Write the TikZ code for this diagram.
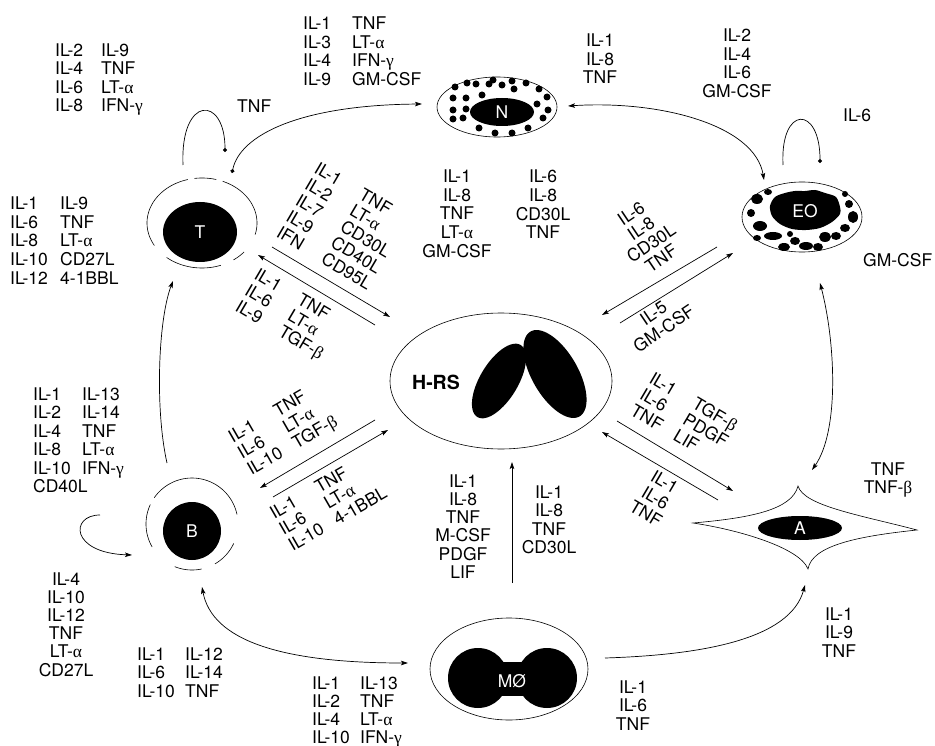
\documentclass[tikz,border=0pt]{standalone}
\usepackage{fontspec}
\setmainfont{TeX Gyre Heros}
\newfontfamily\grkfont{Liberation Serif}
\usetikzlibrary{arrows.meta,shapes.geometric}

\newcommand\myalpha{{\grkfont α}}
\newcommand\mybeta{{\grkfont β}}
\newcommand\mygamma{{\grkfont γ}}
% two columns of cytokine names, first column of fixed width
\newcommand\twocol[2]{\begin{tabular}[t]{@{}p{#1pt}@{}l@{}}#2\end{tabular}}
% one centred column
\newcommand\onecol[1]{\begin{tabular}[t]{@{}c@{}}#1\end{tabular}}
% a named port at an offset from a cell
\newcommand\port[3]{\path (#1.center) ++(#2) coordinate (#3);}

\begin{document}
\begin{tikzpicture}[x=1pt,y=-1pt,
  font=\fontsize{17.5}{18.5}\selectfont,
  ringline/.style={line width=0.6pt},
  cellring/.style={ellipse, draw, line width=0.6pt, inner sep=0pt},
  frame/.style={ellipse, inner sep=0pt},
  nuc/.style={ellipse, fill=black, inner sep=0pt, text=white},
  lbl/.style={inner sep=0pt},
  wire/.style={line width=0.7pt},
  arr/.style={wire, -{Stealth[length=7pt,width=4.5pt,inset=1.5pt]}},
  dbl/.style={wire, {Stealth[length=7pt,width=4.5pt,inset=1.5pt]}-{Stealth[length=7pt,width=4.5pt,inset=1.5pt]}},
  dotend/.style={wire, -{Circle[length=4pt]}},
  dotarr/.style={wire, {Circle[length=4pt]}-{Stealth[length=7pt,width=4.5pt,inset=1.5pt]}},
]
\useasboundingbox (0,0) rectangle (935,746);

% ---------------- cells ----------------
% T lymphocyte
\node[frame, minimum width=110pt, minimum height=90pt] (tring) at (202,223) {};
\foreach \a/\b in {150/255,262/285,292/375,40/55,70/130}
  \draw[ringline, shift={(tring.center)}] plot[domain=\a:\b, samples=40] ({55*cos(\x)},{45*sin(\x)});
\node[nuc, minimum width=74pt, minimum height=60pt] (tnuc) at (200,232) {T};

% B lymphocyte
\node[frame, minimum width=92pt, minimum height=92pt] (bring) at (192,524) {};
\foreach \a/\b in {150/205,215/348,25/60,78/112}
  \draw[ringline, shift={(bring.center)}] plot[domain=\a:\b, samples=40] ({46*cos(\x)},{46*sin(\x)});
\node[nuc, minimum width=58pt, minimum height=58pt] (bnuc) at (192,531) {B};

% neutrophil
\node[cellring, minimum width=120pt, minimum height=60pt] (n) at (497,107) {};
\foreach \p in {(-42,-20),(-30,-24),(-21,-23),(-8,-23),(-4,-27),(5,-22),(15,-26),(17,-18),
  (29,-24),(42,-18),(-44,-9),(-31,-9),(-15,-12),(50,-10),(-44,3),(-31,2),(40,-3),(51,3),
  (-44,12),(-34,11),(46,11),(-18,21),(-2,26),(15,26),(31,21)}
  \fill[shift={(n.center)}] \p circle[radius=3.5];
\node[nuc, minimum width=64pt, minimum height=28pt] (nnuc) at (502,112) {N};

% eosinophil
\node[cellring, minimum width=120pt, minimum height=70pt] (eo) at (802,217) {};
\fill[shift={(eo.center)}] plot[smooth cycle] coordinates {(38,-10) (34,-20) (23,-24) (13,-27)
  (3,-26) (-7,-26) (-17,-24) (-27,-20) (-32,-11) (-30,-1) (-22,7) (-10,12) (4,13) (18,11)
  (30,5) (38,-3)};
\foreach \gx/\gy/\rx/\ry in {-45/-18/6/5,-51/-4/4/4,-42/9/7/5,-45/21/4/3,-29/19/9/4,-18/30/6/4,
  -7/24/5/4,4/29/7/4,16/30/5/4,23/20/6/5,34/19/5/4,43/11/5/4,51/0/5/6,47/-13/4/4,43/-23/3/3,
  -34/-25/4/3,-12/17/3/3}
  \fill[shift={(eo.center)}] (\gx,\gy) ellipse[x radius=\rx, y radius=\ry];
\node[lbl, text=white] (eolabel) at (805,211) {EO};

% Hodgkin / Reed-Sternberg cell with its two tilted nuclei
\node[cellring, minimum width=222pt, minimum height=136pt] (hrs) at (501,381) {};
\fill[shift={(hrs.center)}] plot[domain=0:360, samples=90]
  ({-2+42*cos(\x)*0.515+19*sin(\x)*0.857},{-42*cos(\x)*0.857+19*sin(\x)*0.515}) -- cycle;
\fill[shift={(hrs.center)}] plot[domain=0:360, samples=90]
  ({54+49*cos(\x)*0.5-23*sin(\x)*0.866},{-7+49*cos(\x)*0.866+23*sin(\x)*0.5}) -- cycle;
\node[lbl, font=\fontsize{19.5}{22}\selectfont\bfseries] (hrslabel) at (436,382) {H-RS};

% macrophage
\node[cellring, minimum width=158pt, minimum height=102pt] (mo) at (509,669) {};
\fill[shift={(mo.center)}] (-31,9) circle[radius=30];
\fill[shift={(mo.center)}] (38,9) circle[radius=30];
\fill[shift={(mo.center)}] (-31,-7) rectangle (38,27);
\node[lbl, text=white] (molabel) at (512,681) {MØ};

% fibroblast-like cell
\node[frame, minimum width=84pt, minimum height=24pt] (anucframe) at (800,528) {};
\draw[ringline, fill=white, shift={(anucframe.center)}]
  (-107,-5) .. controls (-50,-10) and (-8,-18) .. (-2,-42)
  .. controls (4,-22) and (60,-13) .. (117,2)
  .. controls (60,8) and (12,17) .. (8,41)
  .. controls (0,20) and (-60,2) .. cycle;
\node[nuc, minimum width=84pt, minimum height=24pt] (anuc) at (800,528) {A};

% ---------------- ports ----------------
\port{tring}{-19,-58}{tloopA}
\port{tring}{23,-71}{tloopB}
\port{tring}{30,-50}{tN}
\port{tring}{70,24}{tH}
\port{tring}{56,32}{tHin}
\port{tring}{-29,58}{tB}
\port{hrs}{-111,-64}{hTin}
\port{hrs}{-126,-56}{hT}
\port{hrs}{-126,39}{hB}
\port{hrs}{-113,49}{hBin}
\port{hrs}{11,81}{hM}
\port{hrs}{116,40}{hA}
\port{hrs}{101,51}{hAin}
\port{hrs}{101,-66}{hEin}
\port{hrs}{119,-58}{hE}
\port{n}{-75,-3}{nT}
\port{n}{71,-1}{nE}
\port{eo}{-38,-37}{eN}
\port{eo}{-19,-52}{eloopA}
\port{eo}{18,-54}{eloopB}
\port{eo}{-85,30}{eH}
\port{eo}{-69,36}{eHin}
\port{eo}{18,66}{eA}
\port{bring}{-25,-61}{bT}
\port{bring}{68,-36}{bHin}
\port{bring}{81,-27}{bH}
\port{bring}{-92,-9}{bloopA}
\port{bring}{-60,31}{bloopB}
\port{bring}{10,63}{bM}
\port{mo}{-101,-6}{mB}
\port{mo}{3,-86}{mH}
\port{mo}{96,-11}{mA}
\port{anuc}{-67,-37}{aHin}
\port{anuc}{-82,-28}{aH}
\port{anuc}{12,-58}{aE}
\port{anuc}{5,57}{aM}

% ---------------- connectors ----------------
\draw[dotend] (tloopA) .. controls +(-3,-70) and +(0,-57) .. (tloopB);
\draw[dotarr] (tN) .. controls +(8,-38) and +(-122,1) .. (nT);
\draw[dbl] (nE) .. controls +(92,-6) and +(-9,-55) .. (eN);
\draw[dotend] (eloopA) .. controls +(-3,-60) and +(0,-58) .. (eloopB);
\draw[dbl] (eA) .. controls +(15,57) and +(28,-40) .. (aE);
\draw[arr] (bT) .. controls +(-12,-53) and +(-15,39) .. (tB);
\draw[arr] (bloopA) .. controls +(-30,0) and +(-62,-2) .. (bloopB);
\draw[dbl] (bM) .. controls +(10,53) and +(-128,0) .. (mB);
\draw[arr] (mA) .. controls +(95,-3) and +(-15,55) .. (aM);
\draw[arr] (mH) -- (hM);
\draw[arr] (tH) -- (hTin);
\draw[arr] (hT) -- (tHin);
\draw[arr] (hB) -- (bHin);
\draw[arr] (bH) -- (hBin);
\draw[arr] (hA) -- (aHin);
\draw[arr] (aH) -- (hAin);
\draw[arr] (eH) -- (hEin);
\draw[arr] (hE) -- (eHin);

% ---------------- cytokine labels ----------------
\node[lbl, anchor=base west] (ltTa) at (55,56.5) {\twocol{46}{IL-2 & IL-9\\ IL-4 & TNF\\ IL-6 & LT-\myalpha\\ IL-8 & IFN-\mygamma}};
\node[lbl, anchor=base west] (ltTloop) at (237,113) {TNF};
\node[lbl, anchor=base west] (ltN) at (303,30) {\twocol{49}{IL-1 & TNF\\ IL-3 & LT-\myalpha\\ IL-4 & IFN-\mygamma\\ IL-9 & GM-CSF}};
\node[lbl, anchor=base] (ltNr) at (600,47) {\onecol{IL-1\\ IL-8\\ TNF}};
\node[lbl, anchor=base] (ltE) at (737,42) {\onecol{IL-2\\ IL-4\\ IL-6\\ GM-CSF}};
\node[lbl, anchor=base west] (ltEloop) at (843,122) {IL-6};
\node[lbl, anchor=base west] (ltTb) at (10,210) {\twocol{50}{IL-1 & IL-9\\ IL-6 & TNF\\ IL-8 & LT-\myalpha\\ IL-10 & CD27L\\ IL-12 & 4-1BBL}};
\node[lbl, anchor=base] (ltHa) at (457,183) {\onecol{IL-1\\ IL-8\\ TNF\\ LT-\myalpha\\ GM-CSF}};
\node[lbl, anchor=base] (ltHb) at (543,183) {\onecol{IL-6\\ IL-8\\ CD30L\\ TNF}};
\node[lbl, anchor=base west] (ltEr) at (863,267) {GM-CSF};
\node[lbl, anchor=base west] (ltBa) at (33,400) {\twocol{49}{IL-1 & IL-13\\ IL-2 & IL-14\\ IL-4 & TNF\\ IL-8 & LT-\myalpha\\ IL-10 & IFN-\mygamma\\ \multicolumn{2}{@{}l@{}}{CD40L}}};
\node[lbl, anchor=base, font=\fontsize{17.5}{18}\selectfont] (ltBb) at (66,585) {\onecol{IL-4\\ IL-10\\ IL-12\\ TNF\\ LT-\myalpha\\ CD27L}};
\node[lbl, anchor=base west] (ltBc) at (137,660) {\twocol{48}{IL-1 & IL-12\\ IL-6 & IL-14\\ IL-10 & TNF}};
\node[lbl, anchor=base west, font=\fontsize{17.5}{18}\selectfont] (ltM) at (312,689) {\twocol{48}{IL-1 & IL-13\\ IL-2 & TNF\\ IL-4 & LT-\myalpha\\ IL-10 & IFN-\mygamma}};
\node[lbl, anchor=base, font=\fontsize{17.5}{18}\selectfont] (ltMHa) at (463,487) {\onecol{IL-1\\ IL-8\\ TNF\\ M-CSF\\ PDGF\\ LIF}};
\node[lbl, anchor=base] (ltMHb) at (549,498) {\onecol{IL-1\\ IL-8\\ TNF\\ CD30L}};
\node[lbl, anchor=base] (ltMA) at (633,693) {\onecol{IL-1\\ IL-6\\ TNF}};
\node[lbl, anchor=base] (ltAb) at (839,620) {\onecol{IL-1\\ IL-9\\ TNF}};
\node[lbl, anchor=base] (ltAr) at (888,475) {\onecol{TNF\\ TNF-\mybeta}};

% labels along the straight arrows
\node[lbl, rotate=-30.5] (rTa) at (342,228) {\twocol{52}{IL-1 & TNF\\ IL-2 & LT-\myalpha\\ IL-7 & CD30L\\ IL-9 & CD40L\\ IFN & CD95L}};
\node[lbl, rotate=-30.5] (rTb) at (288,316) {\twocol{50}{IL-1 & TNF\\ IL-6 & LT-\myalpha\\ IL-9 & TGF-\mybeta}};
\node[lbl, rotate=30] (rBa) at (284,431) {\twocol{52}{IL-1 & TNF\\ IL-6 & LT-\myalpha\\ IL-10 & TGF-\mybeta}};
\node[lbl, rotate=30] (rBb) at (329.5,505) {\twocol{52}{IL-1 & TNF\\ IL-6 & LT-\myalpha\\ IL-10 & 4-1BBL}};
\node[lbl, rotate=-30.5] (rAa) at (683,420) {\twocol{50}{IL-1 & TGF-\mybeta\\ IL-6 & PDGF\\ TNF & LIF}};
\node[lbl, rotate=-30.5] (rAb) at (654,500) {\onecol{IL-1\\ IL-6\\ TNF}};
\node[lbl, rotate=34, font=\fontsize{17.5}{17}\selectfont] (rEa) at (647.5,238) {\onecol{IL-6\\ IL-8\\ CD30L\\ TNF}};
\node[lbl, rotate=34] (rEb) at (660,323) {\onecol{IL-5\\ GM-CSF}};
\end{tikzpicture}
\end{document}
